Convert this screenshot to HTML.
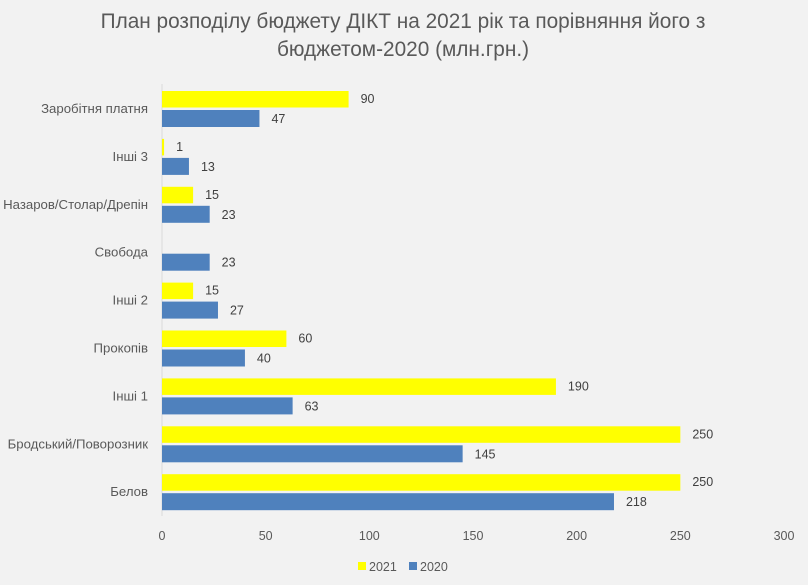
<!DOCTYPE html>
<html><head><meta charset="utf-8"><style>
body{margin:0;background:#f2f2f2;}
svg{display:block;font-family:"Liberation Sans","DejaVu Sans",sans-serif;}
</style></head><body>
<svg id="chart" width="808" height="585" viewBox="0 0 808 585">
<rect width="808" height="585" fill="#f2f2f2"/>
<text x="403" y="28" text-anchor="middle" font-size="20.8" fill="#595959">План розподілу бюджету ДІКТ на 2021 рік та порівняння його з</text>
<text x="403" y="56" text-anchor="middle" font-size="20.8" fill="#595959">бюджетом-2020 (млн.грн.)</text>
<line x1="162" y1="84" x2="162" y2="516" stroke="#d9d9d9"/>
<g id="bars"></g>
<g id="xticks"></g>
<rect x="358" y="562" width="8" height="8" fill="#ffff00"/>
<text x="369" y="571" font-size="12.5" fill="#595959">2021</text>
<rect x="409" y="562" width="8" height="8" fill="#4f81bd"/>
<text x="420" y="571" font-size="12.5" fill="#595959">2020</text>
</svg>
<script>
const categories=["Заробітня платня","Інші 3","Назаров/Столар/Дрепін","Свобода","Інші 2","Прокопів","Інші 1","Бродський/Поворозник","Белов"];
const values2021=[90,1,15,null,15,60,190,250,250];
const values2020=[47,13,23,23,27,40,63,145,218];
const xTicks=[0,50,100,150,200,250,300];
const NS="http://www.w3.org/2000/svg";
const x0=162,pxPer=(784-162)/300;
const xs=v=>x0+v*pxPer;
const yc=i=>109+i*47.9;
function mk(tag,attrs,parent,txt){const e=document.createElementNS(NS,tag);for(const k in attrs)e.setAttribute(k,attrs[k]);if(txt!==undefined)e.textContent=txt;parent.appendChild(e);return e;}
const bars=document.getElementById('bars');
categories.forEach((c,i)=>{
  const y=yc(i);
  const l=mk('text',{x:148,y:y+4,'text-anchor':'end','font-size':13.2,fill:'#595959'},bars,c);
  
  
  const v1=values2021[i];
  if(v1!==null){
    const r=mk('rect',{x:x0,y:y-18,width:xs(v1)-x0,height:16.5,fill:'#ffff00'},bars);
    
    
    const t=mk('text',{x:xs(v1)+12,y:y-6,'font-size':12.5,fill:'#404040'},bars,v1);
    
    
  }
  const v2=values2020[i];
  const r2=mk('rect',{x:x0,y:y+1,width:xs(v2)-x0,height:17,fill:'#4f81bd'},bars);
  
  
  const t2=mk('text',{x:xs(v2)+12,y:y+14,'font-size':12.5,fill:'#404040'},bars,v2);
  
  
});
const xt=document.getElementById('xticks');
xTicks.forEach(v=>{
  const t=mk('text',{x:xs(v),y:540,'text-anchor':'middle','font-size':12.5,fill:'#595959'},xt,v);
  
  
});
</script>
</body></html>
